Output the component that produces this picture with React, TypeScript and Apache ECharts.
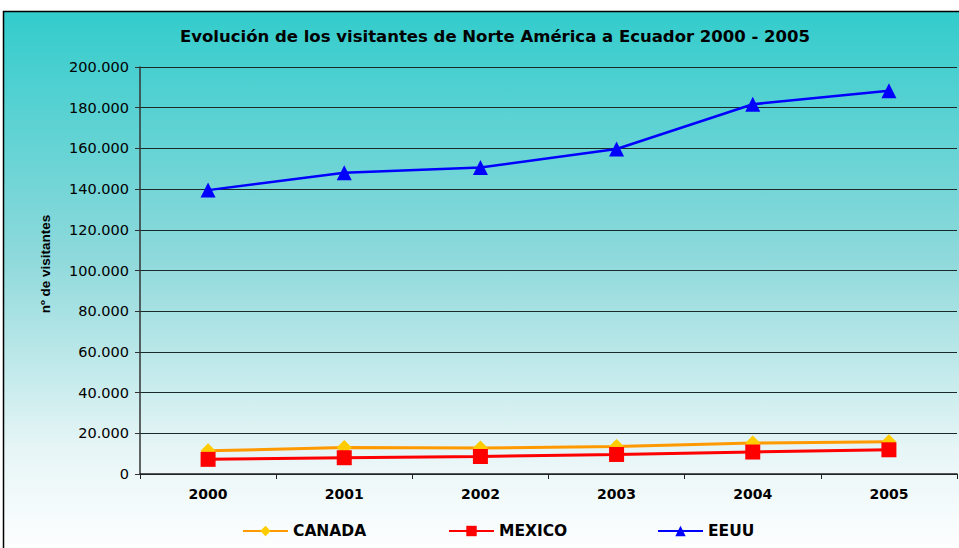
import React, { useEffect, useRef } from "react";
import * as echarts from "echarts";

const years = ["2000", "2001", "2002", "2003", "2004", "2005"];
const canada = [11400, 13000, 12800, 13500, 15200, 15800];
const mexico = [7200, 8000, 8600, 9600, 10800, 11900];
const eeuu = [139500, 148000, 150600, 159700, 181700, 188300];

const fmt = (v: number) => (v === 0 ? "0" : v.toLocaleString("de-DE"));
const WIDE = "DejaVu Sans, Verdana, sans-serif";

export default function App() {
  const ref = useRef<HTMLDivElement>(null);
  useEffect(() => {
    const chart = echarts.init(ref.current!, null, { renderer: "svg" });
    const legendText = { fontFamily: WIDE, fontWeight: "bold", fontSize: 15.5, color: "#000" };
    chart.setOption({
      animation: false,
      textStyle: { fontFamily: WIDE },
      graphic: [
        {
          type: "rect",
          z: -10,
          silent: true,
          shape: { x: 3.5, y: 11.5, width: 962, height: 545 },
          style: {
            fill: new echarts.graphic.LinearGradient(0, 0, 0, 1, [
              { offset: 0, color: "#33CCCC" },
              { offset: 0.45, color: "#8ED9DB" },
              { offset: 0.8, color: "#E6F5F6" },
              { offset: 1, color: "#FFFFFF" },
            ]),
            stroke: "#000",
            lineWidth: 1.5,
          },
        },
        {
          type: "text",
          x: 45,
          y: 264,
          rotation: Math.PI / 2,
          silent: true,
          style: {
            text: "nº de visitantes",
            fontFamily: "Liberation Sans, Arial",
            fontWeight: "bold",
            fontSize: 13.5,
            fill: "#000",
            align: "center",
            verticalAlign: "middle",
          },
        },
      ],
      title: {
        text: "Evolución de los visitantes de Norte América a Ecuador 2000 - 2005",
        left: 490,
        textAlign: "center",
        top: 23,
        textStyle: { fontFamily: WIDE, fontWeight: "bold", fontSize: 16.5, color: "#000" },
      },
      grid: { left: 140, right: 2, top: 67, bottom: 74 },
      legend: [
        { data: ["CANADA"], left: 237, top: 518, itemWidth: 45, itemHeight: 13, textStyle: legendText, itemGap: 4 },
        { data: ["MEXICO"], left: 443, top: 518, itemWidth: 45, itemHeight: 13, textStyle: legendText, itemGap: 4 },
        { data: ["EEUU"], left: 652, top: 518, itemWidth: 45, itemHeight: 13, textStyle: legendText, itemGap: 4 },
      ],
      xAxis: {
        type: "category",
        data: years,
        boundaryGap: true,
        axisLine: { lineStyle: { color: "#222", width: 1.5 } },
        axisTick: { show: true, length: 5, inside: false, lineStyle: { color: "#222" } },
        axisLabel: { margin: 13, fontWeight: "bold", fontSize: 14, color: "#000", fontFamily: WIDE },
      },
      yAxis: {
        type: "value",
        min: 0,
        max: 200000,
        interval: 20000,
        axisLine: { show: true, lineStyle: { color: "#333", width: 1.5 } },
        axisTick: { show: true, length: 5, lineStyle: { color: "#333" } },
        axisLabel: { formatter: fmt, fontSize: 14.5, color: "#000", margin: 11, fontFamily: WIDE },
        splitLine: { show: true, lineStyle: { color: "#1a2a2a", width: 1 } },
      },
      series: [
        {
          name: "EEUU",
          type: "line",
          data: eeuu,
          symbol: "triangle",
          symbolSize: 15,
          lineStyle: { color: "#0000FF", width: 2.5 },
          itemStyle: { color: "#0000FF" },
          z: 3,
        },
        {
          name: "MEXICO",
          type: "line",
          data: mexico,
          symbol: "rect",
          symbolSize: 15,
          lineStyle: { color: "#FF0000", width: 3 },
          itemStyle: { color: "#FF0000" },
          z: 4,
        },
        {
          name: "CANADA",
          type: "line",
          data: canada,
          symbol: "diamond",
          symbolSize: 15,
          lineStyle: { color: "#FF9900", width: 3 },
          itemStyle: { color: "#FFCC00" },
          z: 3,
        },
      ],
    });
    return () => chart.dispose();
  }, []);
  return <div ref={ref} style={{ position: "absolute", left: 0, top: 0, width: 959, height: 548 }} />;
}
